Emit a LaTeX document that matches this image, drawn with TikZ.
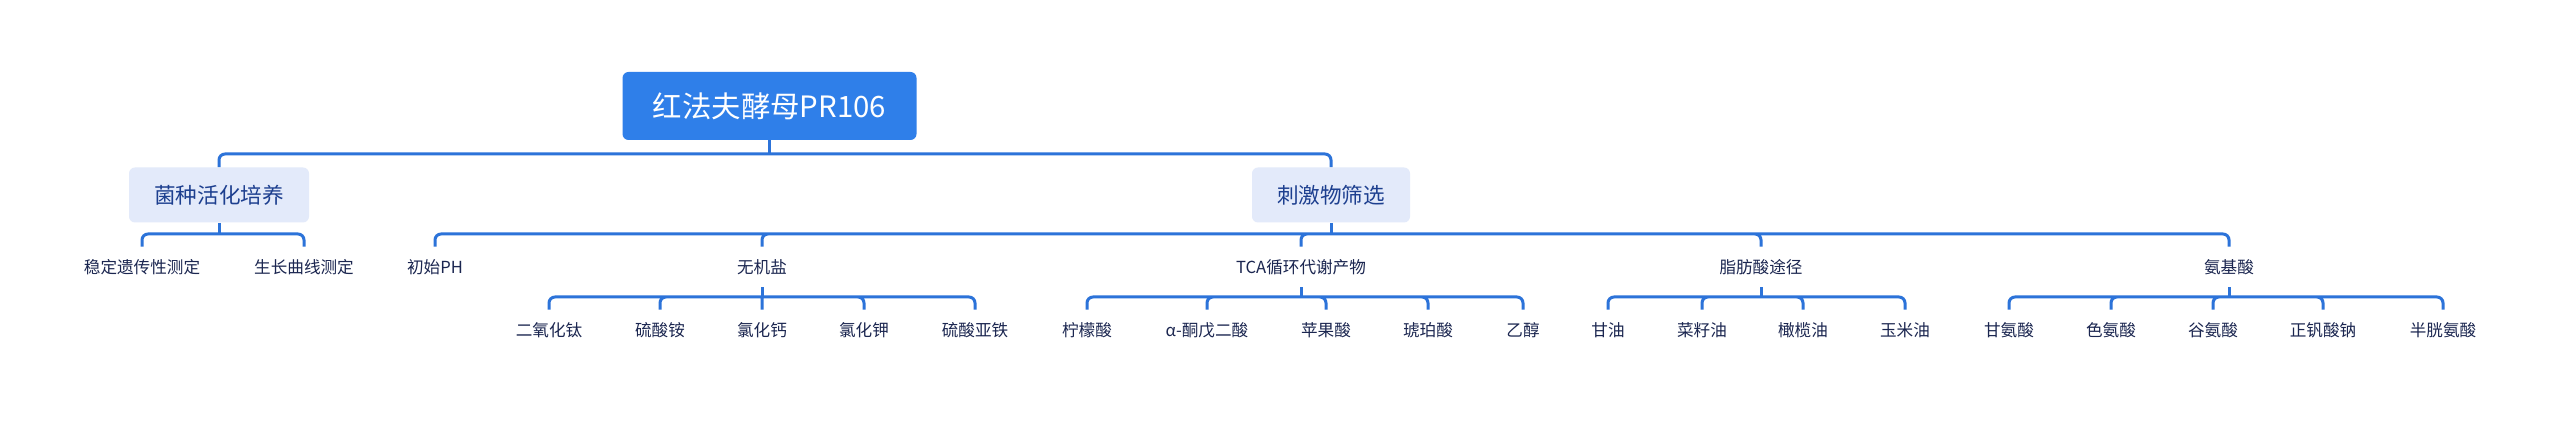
\documentclass[tikz,border=0pt]{standalone}
\usepackage{fontspec}
\setmainfont{Noto Sans CJK SC}
\usepackage{tikz}
\usetikzlibrary{positioning,calc}

\definecolor{rootblue}{HTML}{2F7FE9}
\definecolor{subfill}{HTML}{E3EAFA}
\definecolor{subtext}{HTML}{1D3F8F}
\definecolor{linkblue}{HTML}{2C73D9}
\definecolor{leaftext}{HTML}{1B2650}

\begin{document}
\begin{tikzpicture}[
  x=0.5pt, y=-0.5pt,
  rootbox/.style={fill=rootblue, rounded corners=3pt, text=white, minimum width=147pt, minimum height=34pt, inner sep=0pt, font=\fontsize{14.7pt}{17pt}\selectfont},
  subbox/.style={fill=subfill, rounded corners=3pt, text=subtext, minimum height=27.5pt, inner sep=0pt, font=\fontsize{10.8pt}{13pt}\selectfont},
  leaf/.style={text=leaftext, minimum height=20pt, inner sep=0pt, font=\fontsize{8.3pt}{10pt}\selectfont},
  link/.style={draw=linkblue, line width=1.5pt},
  branch/.style={link, rounded corners=3pt},
]
\useasboundingbox[fill=white] (0,0) rectangle (2560,421);

% Root
\node[rootbox] (root) at (769.5,106) {红法夫酵母PR106};

% Main branches
\node[subbox, minimum width=90pt] (culture) at (219,195) {菌种活化培养};
\node[subbox, minimum width=79pt] (screen) at (1331,195) {刺激物筛选};

% Second level
\node[leaf] (stab) at (142,267) {稳定遗传性测定};
\node[leaf] (growth) at (304,267) {生长曲线测定};
\node[leaf] (ph) at (435,267) {初始PH};
\node[leaf] (salt) at (762,267) {无机盐};
\node[leaf] (tca) at (1301,267) {TCA循环代谢产物};
\node[leaf] (fatty) at (1761,267) {脂肪酸途径};
\node[leaf] (amino) at (2229,267) {氨基酸};

% Inorganic salts
\node[leaf] (tio2) at (549,330) {二氧化钛};
\node[leaf] (nhso) at (660,330) {硫酸铵};
\node[leaf] (cacl) at (762,330) {氯化钙};
\node[leaf] (kcl) at (864,330) {氯化钾};
\node[leaf] (feso) at (975,330) {硫酸亚铁};

% TCA products
\node[leaf] (citric) at (1087,330) {柠檬酸};
\node[leaf] (akg) at (1207,330) {α-酮戊二酸};
\node[leaf] (malic) at (1326,330) {苹果酸};
\node[leaf] (succ) at (1428,330) {琥珀酸};
\node[leaf] (ethanol) at (1523,330) {乙醇};

% Fatty acid pathway
\node[leaf] (glycerol) at (1608,330) {甘油};
\node[leaf] (rape) at (1702,330) {菜籽油};
\node[leaf] (olive) at (1803,330) {橄榄油};
\node[leaf] (corn) at (1905,330) {玉米油};

% Amino acids
\node[leaf] (gly) at (2009,330) {甘氨酸};
\node[leaf] (trp) at (2111,330) {色氨酸};
\node[leaf] (glu) at (2213,330) {谷氨酸};
\node[leaf] (vana) at (2323,330) {正钒酸钠};
\node[leaf] (cys) at (2443,330) {半胱氨酸};

% Connectors
\coordinate (rootbar) at (root.south |- 0,154);
\draw[link] (root.south) -- (rootbar);
\draw[branch] (rootbar) -| (culture.north) (rootbar) -| (screen.north);

\coordinate (culturebar) at (culture.south |- 0,234);
\draw[link] (culture.south) -- (culturebar);
\draw[branch] (culturebar) -| (stab.north) (culturebar) -| (growth.north);

\coordinate (screenbar) at (screen.south |- 0,234);
\draw[link] (screen.south) -- (screenbar);
\draw[branch] (screenbar) -| (ph.north) (screenbar) -| (salt.north) (screenbar) -| (tca.north)
  (screenbar) -| (fatty.north) (screenbar) -| (amino.north);

\coordinate (saltbar) at (salt.south |- 0,297);
\draw[link] (salt.south) -- (saltbar);
\draw[branch] (saltbar) -| (tio2.north) (saltbar) -| (nhso.north) (saltbar) -- (cacl.north)
  (saltbar) -| (kcl.north) (saltbar) -| (feso.north);

\coordinate (tcabar) at (tca.south |- 0,297);
\draw[link] (tca.south) -- (tcabar);
\draw[branch] (tcabar) -| (citric.north) (tcabar) -| (akg.north) (tcabar) -| (malic.north)
  (tcabar) -| (succ.north) (tcabar) -| (ethanol.north);

\coordinate (fattybar) at (fatty.south |- 0,297);
\draw[link] (fatty.south) -- (fattybar);
\draw[branch] (fattybar) -| (glycerol.north) (fattybar) -| (rape.north) (fattybar) -| (olive.north)
  (fattybar) -| (corn.north);

\coordinate (aminobar) at (amino.south |- 0,297);
\draw[link] (amino.south) -- (aminobar);
\draw[branch] (aminobar) -| (gly.north) (aminobar) -| (trp.north) (aminobar) -| (glu.north)
  (aminobar) -| (vana.north) (aminobar) -| (cys.north);
\end{tikzpicture}
\end{document}
